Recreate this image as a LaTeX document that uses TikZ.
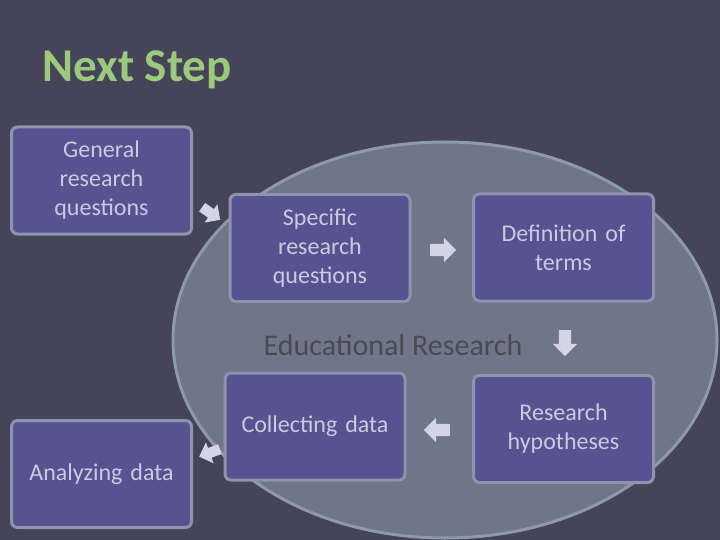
\documentclass[tikz,border=0pt]{standalone}
\usepackage{fontspec}
\setmainfont{Carlito}
\usetikzlibrary{shapes.geometric,shapes.arrows}
\definecolor{bgcol}{HTML}{454458}
\definecolor{ellfill}{HTML}{6F7687}
\definecolor{elldraw}{HTML}{8C9AAA}
\definecolor{boxfill}{HTML}{555490}
\definecolor{boxdraw}{HTML}{8E93AE}
\definecolor{boxtext}{HTML}{CACAE2}
\definecolor{titlecol}{HTML}{9CC97C}
\definecolor{midtext}{HTML}{484B56}
\definecolor{arrcol}{HTML}{D4D4E6}
\tikzset{
  stepbox/.style={draw=boxdraw, line width=3pt, fill=boxfill, rounded corners=6pt,
    text=boxtext, align=center, font=\fontsize{24}{29}\selectfont,
    minimum width=180pt, minimum height=107pt, text width=176pt, inner sep=0pt},
  blockarrow/.style={single arrow, fill=arrcol, draw=none, minimum height=26pt,
    minimum width=24pt, single arrow head extend=6pt, inner sep=6pt}
}
\begin{document}
\begin{tikzpicture}[x=1pt,y=-1pt]
\useasboundingbox (0,0) rectangle (720,540);
\fill[bgcol] (0,0) rectangle (720,540);
\node[ellipse, draw=elldraw, line width=3pt, fill=ellfill, minimum width=544pt, minimum height=396pt, inner sep=0pt] (ell) at (445,340) {};
\node[text=titlecol, font=\fontsize{47}{52}\selectfont\bfseries, anchor=west] (title) at (39,70) {Next Step};
\node[text=midtext, font=\fontsize{30}{34}\selectfont] (mid) at (393,345) {Educational Research};
\node[stepbox] (gen) at (101.5,180.5) {General\\research\\questions};
\node[stepbox] (spec) at (320,248) {Specific\\research\\questions};
\node[stepbox] (def) at (563.5,247.5) {Definition of\\terms};
\node[stepbox] (hyp) at (563.5,429) {Research\\hypotheses};
\node[stepbox] (coll) at (315,426.5) {Collecting data};
\node[stepbox] (ana) at (101.5,474) {Analyzing data};
\node[blockarrow, rotate=-35, minimum height=22pt, minimum width=20pt, inner sep=5pt] (a1) at (209,212) {};
\node[blockarrow] (a2) at (440,250) {};
\node[blockarrow, rotate=-90] (a3) at (565,340) {};
\node[blockarrow, rotate=180] (a4) at (440,430) {};
\node[blockarrow, rotate=200, minimum height=22pt, minimum width=20pt, inner sep=5pt] (a5) at (212,452) {};
\end{tikzpicture}
\end{document}
